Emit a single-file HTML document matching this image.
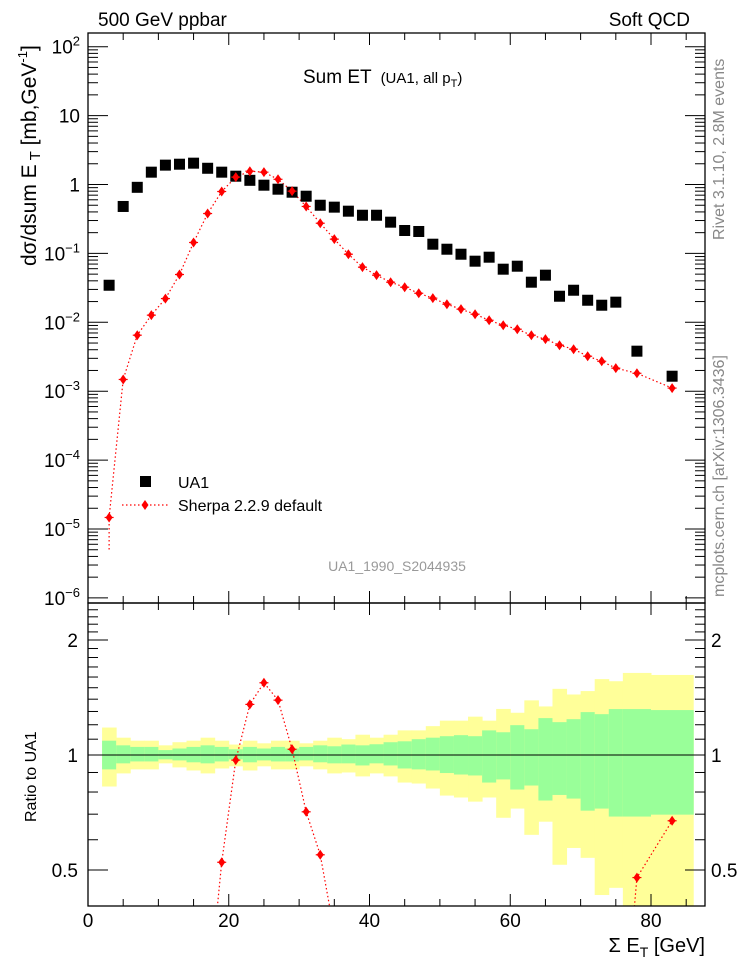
<!DOCTYPE html>
<html><head><meta charset="utf-8"><style>
html,body{margin:0;padding:0;background:#fff;width:746px;height:972px;overflow:hidden;}
svg{display:block;position:absolute;left:0;top:0;font-family:"Liberation Sans",sans-serif;}
</style></head><body>
<svg id="c" width="746" height="972" viewBox="0 0 746 972"></svg>
<script>
const xCenters=[3,5,7,9,11,13,15,17,19,21,23,25,27,29,31,33,35,37,39,41,43,45,47,49,51,53,55,57,59,61,63,65,67,69,71,73,75,78,83];
const ua1Values=[0.0345,0.48,0.91,1.51,1.91,1.97,2.04,1.72,1.51,1.32,1.15,0.977,0.855,0.773,0.676,0.50,0.469,0.41,0.358,0.358,0.284,0.215,0.208,0.136,0.115,0.0973,0.0771,0.0881,0.059,0.0652,0.0382,0.0483,0.0239,0.0292,0.0209,0.0177,0.0196,0.00381,0.00165];
const sherpaValues=[1.47e-5,1.48e-3,0.0065,0.0127,0.0221,0.0494,0.144,0.379,0.791,1.28,1.56,1.51,1.19,0.80,0.48,0.274,0.161,0.0973,0.0631,0.0483,0.0382,0.0323,0.0264,0.0224,0.0183,0.0155,0.0131,0.0107,0.00907,0.00794,0.0065,0.00569,0.00465,0.00407,0.00322,0.00272,0.00216,0.00182,0.00111];
const binEdges=[2,4,6,8,10,12,14,16,18,20,22,24,26,28,30,32,34,36,38,40,42,44,46,48,50,52,54,56,58,60,62,64,66,68,70,72,74,76,80,86];
const yellowTop=[1.18,1.11,1.09,1.09,1.06,1.08,1.09,1.11,1.09,1.065,1.09,1.073,1.09,1.09,1.073,1.09,1.11,1.10,1.13,1.11,1.13,1.16,1.16,1.19,1.23,1.23,1.26,1.23,1.32,1.29,1.39,1.34,1.49,1.44,1.47,1.58,1.56,1.64,1.62];
const greenTop=[1.09,1.06,1.05,1.05,1.03,1.04,1.05,1.06,1.05,1.035,1.05,1.04,1.05,1.04,1.05,1.06,1.054,1.065,1.06,1.067,1.08,1.086,1.10,1.11,1.12,1.127,1.12,1.16,1.147,1.197,1.168,1.249,1.219,1.241,1.295,1.279,1.319,1.319,1.311];
const greenBottom=[0.917,0.951,0.962,0.962,0.974,0.968,0.957,0.951,0.962,0.974,0.957,0.968,0.962,0.962,0.968,0.957,0.951,0.951,0.939,0.951,0.939,0.922,0.917,0.911,0.897,0.889,0.884,0.847,0.863,0.812,0.832,0.760,0.786,0.769,0.715,0.724,0.690,0.690,0.698];
const yellowBottom=[0.827,0.895,0.917,0.917,0.951,0.928,0.911,0.895,0.922,0.934,0.911,0.934,0.917,0.917,0.934,0.917,0.895,0.900,0.879,0.895,0.879,0.847,0.842,0.817,0.783,0.774,0.755,0.774,0.685,0.724,0.618,0.669,0.516,0.571,0.538,0.430,0.449,0.35,0.35];
const xTicks=[0,20,40,60,80];
const mainExps=[2,1,0,-1,-2,-3,-4,-5,-6];
const ratioTickLabels=["2","1","0.5"];
const ratioTickValues=[2,1,0.5];

const NS="http://www.w3.org/2000/svg";
const svg=document.getElementById('c');
const L=88,R=705,T=33,MB=603,RB=906;
const X=v=>L+(v)*7.0375;
const Y=v=>184.5-68.9*Math.log10(v);
const RY=v=>755-382*Math.log10(v);
function el(tag,attrs,parent){const e=document.createElementNS(NS,tag);for(const k in attrs)e.setAttribute(k,attrs[k]);(parent||svg).appendChild(e);return e;}
function txt(s,attrs,parent){const e=el('text',attrs,parent);e.textContent=s;return e;}

const defs=el('defs',{});
const cp1=el('clipPath',{id:'cm'},defs);el('rect',{x:L,y:T,width:R-L,height:MB-T},cp1);
const cp2=el('clipPath',{id:'cr'},defs);el('rect',{x:L,y:MB,width:R-L,height:RB-MB},cp2);

const bands=el('g',{'clip-path':'url(#cr)'});


for(let i=0;i<yellowTop.length;i++){
  const x0=X(binEdges[i]),x1=X(binEdges[i+1]);
  const r1=el('rect',{x:x0,y:RY(yellowTop[i]),width:x1-x0+0.5,height:RY(yellowBottom[i])-RY(yellowTop[i]),fill:'#ffff99'},bands);
  
  
  const r2=el('rect',{x:x0,y:RY(greenTop[i]),width:x1-x0+0.5,height:RY(greenBottom[i])-RY(greenTop[i]),fill:'#99ff99'},bands);
  
  
}
el('line',{x1:L,x2:R,y1:RY(1),y2:RY(1),stroke:'#000','stroke-width':1});

function diamond(g,cx,cy){
  const d=el('path',{d:`M${cx} ${cy-5}L${cx+3.5} ${cy}L${cx} ${cy+5}L${cx-3.5} ${cy}Z`,fill:'#ff0000'},g);
  el('line',{x1:cx-4.5,x2:cx+4.5,y1:cy,y2:cy,stroke:'#ff0000','stroke-width':1.2},g);
  return d;
}
const rg=el('g',{'clip-path':'url(#cr)'});


let rp='';
xCenters.forEach((x,i)=>{const r=sherpaValues[i]/ua1Values[i];rp+=(i?'L':'M')+X(x)+' '+RY(r);});
el('path',{d:rp,fill:'none',stroke:'#ff0000','stroke-width':1.2,'stroke-dasharray':'1.5,2.5'},rg);
xCenters.forEach((x,i)=>{const r=sherpaValues[i]/ua1Values[i];const d=diamond(rg,X(x),RY(r));
  
  });

const mg=el('g',{'clip-path':'url(#cm)'});


let sp='M'+X(xCenters[0])+' '+(Y(sherpaValues[0])+32);
xCenters.forEach((x,i)=>{sp+='L'+X(x)+' '+Y(sherpaValues[i]);});
el('path',{d:sp,fill:'none',stroke:'#ff0000','stroke-width':1.2,'stroke-dasharray':'1.5,2.5'},mg);
xCenters.forEach((x,i)=>{
  const s=el('rect',{x:X(x)-5.5,y:Y(ua1Values[i])-5.5,width:11,height:11,fill:'#000'},mg);
  
  
});
xCenters.forEach((x,i)=>{const d=diamond(mg,X(x),Y(sherpaValues[i]));
  
  });

el('rect',{x:L,y:T,width:R-L,height:MB-T,fill:'none',stroke:'#000','stroke-width':1.3});
el('rect',{x:L,y:MB,width:R-L,height:RB-MB,fill:'none',stroke:'#000','stroke-width':1.3});

const tk=el('g',{stroke:'#000','stroke-width':1});
for(let v=0;v<=87;v+=5){
  const big=v%20===0,len=big?12:7,x=X(v);
  [[T,1],[MB,-1],[MB,1],[RB,-1]].forEach(([y,s])=>el('line',{x1:x,x2:x,y1:y,y2:y+s*len},tk));
}
for(let e=-6;e<=2;e++){
  for(let m=1;m<10;m++){
    const v=m*Math.pow(10,e),y=Y(v);if(y<T||y>MB)continue;
    const len=m===1?20:10;
    el('line',{x1:L,x2:L+len,y1:y,y2:y},tk);el('line',{x1:R,x2:R-len,y1:y,y2:y},tk);
  }
}
for(let k=4;k<=25;k++){const v=k/10,y=RY(v);if(y<MB||y>RB)continue;
  const len=(k===5||k===10||k===20)?20:10;
  el('line',{x1:L,x2:L+len,y1:y,y2:y},tk);el('line',{x1:R,x2:R-len,y1:y,y2:y},tk);}

xTicks.forEach(v=>{const t=txt(String(v),{x:X(v),y:927,'font-size':19,'text-anchor':'middle'});
  
  });
mainExps.forEach(e=>{
  const y=Y(Math.pow(10,e))+7;
  let t;
  if(e===1){t=txt('10',{x:80,y:y,'font-size':19,'text-anchor':'end'});}
  else if(e===0){t=txt('1',{x:80,y:y,'font-size':19,'text-anchor':'end'});}
  else{t=el('text',{x:80,y:y,'font-size':19,'text-anchor':'end'});
    const a=el('tspan',{},t);a.textContent='10';
    const b=el('tspan',{dy:-8,'font-size':13},t);b.textContent=e<0?'\u2212'+(-e):String(e);}
  
  
});
ratioTickValues.forEach((v,i)=>{
  const a=txt(ratioTickLabels[i],{x:78,y:RY(v)+7,'font-size':19,'text-anchor':'end'});
  
  
  const b=txt(ratioTickLabels[i],{x:711,y:RY(v)+7,'font-size':19});
  
  
});
</script>
<svg width="746" height="972" style="font-family:'Liberation Sans',sans-serif">
<text x="98" y="26" font-size="19">500 GeV ppbar</text>
<text x="690" y="26" font-size="19" text-anchor="end">Soft QCD</text>
<text x="303" y="83" font-size="19">Sum ET <tspan font-size="15" dx="4">(UA1, all p</tspan><tspan font-size="11" dy="4">T</tspan><tspan font-size="15" dy="-4">)</tspan></text>
<text transform="translate(36,266) rotate(-90)" font-size="21">dσ/dsum E<tspan font-size="15" dy="4"> T</tspan><tspan dy="-4"> [mb,GeV</tspan><tspan font-size="13" dy="-9">-1</tspan><tspan dy="9">]</tspan></text>
<text transform="translate(36,822) rotate(-90)" font-size="16">Ratio to UA1</text>
<text transform="translate(724,240) rotate(-90)" font-size="16" fill="#888">Rivet 3.1.10, 2.8M events</text>
<text transform="translate(724,597) rotate(-90)" font-size="16" fill="#888">mcplots.cern.ch [arXiv:1306.3436]</text>
<text x="397" y="571" font-size="14" fill="#999" text-anchor="middle">UA1_1990_S2044935</text>
<g>
<rect x="140" y="476" width="11" height="11" fill="#000"/>
<text x="178" y="488" font-size="16">UA1</text>
<line x1="122" x2="168" y1="505" y2="505" stroke="#f00" stroke-width="1.2" stroke-dasharray="1.5,2.5"/>
<path d="M145 500L148.5 505L145 510L141.5 505Z" fill="#f00"/>
<text x="178" y="511" font-size="16">Sherpa 2.2.9 default</text>
</g>
<text x="705" y="952" font-size="20" text-anchor="end">Σ E<tspan font-size="14" dy="5">T</tspan><tspan dy="-5"> [GeV]</tspan></text>
</svg>
</body></html>
